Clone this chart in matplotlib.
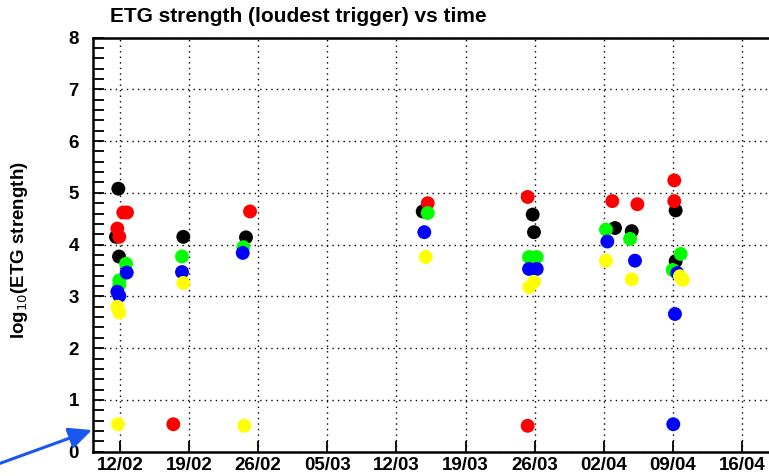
import numpy as np
import matplotlib.pyplot as plt
from matplotlib.patches import FancyArrowPatch

# days since 12/02, log10 of loudest ETG trigger strength
black_t = [-0.17, -0.41, -0.10, 6.41, 12.76, 30.66, 41.80, 41.93, 50.14, 51.83, 56.28, 56.28]
black_v = [5.08, 4.15, 3.77, 4.15, 4.14, 4.64, 4.58, 4.24, 4.32, 4.26, 4.66, 3.68]
red_t = [0.33, 0.71, -0.27, -0.07, 5.40, 13.17, 31.17, 41.29, 41.29, 49.86, 52.40, 56.14, 56.14]
red_v = [4.62, 4.62, 4.31, 4.15, 0.53, 4.64, 4.80, 4.92, 0.50, 4.84, 4.78, 5.24, 4.84]
green_t = [0.61, -0.07, -0.07, 6.28, 12.49, 31.17, 41.43, 42.21, 49.22, 51.66, 56.79, 55.98]
green_v = [3.63, 3.31, 3.22, 3.77, 3.95, 4.61, 3.76, 3.76, 4.29, 4.11, 3.82, 3.51]
blue_t = [0.68, -0.27, -0.07, 6.28, 12.43, 30.82, 41.43, 42.21, 49.36, 52.16, 56.45, 56.21, 56.04]
blue_v = [3.46, 3.09, 3.01, 3.47, 3.84, 4.24, 3.53, 3.53, 4.06, 3.69, 3.45, 2.66, 0.53]
yellow_t = [-0.27, -0.07, -0.20, 6.41, 12.59, 30.96, 41.93, 41.46, 49.22, 51.83, 56.72, 57.00]
yellow_v = [2.80, 2.69, 0.53, 3.26, 0.50, 3.76, 3.28, 3.18, 3.69, 3.33, 3.39, 3.32]

week_labels = ['12/02', '19/02', '26/02', '05/03', '12/03', '19/03', '26/03', '02/04', '09/04', '16/04']

plt.rcParams['font.family'] = ['Liberation Sans', 'DejaVu Sans']

W, H = 769, 476
fig = plt.figure(figsize=(W/100, H/100), dpi=100)
x0, x1 = 93, 800
y0, y1 = 451.7, 37.5
ax = fig.add_axes([x0/W, (H-y0)/H, (x1-x0)/W, (y0-y1)/H])

series = [(black_t, black_v, 'black'), (red_t, red_v, '#ff0000'),
          (green_t, green_v, '#00ff00'), (blue_t, blue_v, '#0000ff'),
          (yellow_t, yellow_v, '#ffff00')]
for t, v, c in series:
    ax.scatter(t, v, s=100, color=c, edgecolors='none', zorder=3)

px_per_day = 9.873
ax.set_xlim((x0-120)/px_per_day, (x1-120)/px_per_day)
ax.set_ylim(0, 8)

ax.set_xticks(np.arange(len(week_labels))*7)
ax.set_xticklabels(week_labels, fontweight='bold', fontsize=13.5)
ax.set_yticks(range(9))
ax.set_yticklabels([str(i) for i in range(9)], fontweight='bold', fontsize=13.5)
ax.set_yticks(np.arange(0, 8.01, 0.2), minor=True)

ax.tick_params(axis='both', which='both', direction='in', color='black', width=1.3)
ax.tick_params(axis='y', which='major', length=8, pad=10)
ax.tick_params(axis='y', which='minor', length=8)
ax.tick_params(axis='x', which='major', length=8, pad=4)
ax.tick_params(top=False, right=False)

ax.grid(True, which='major', color='black', linestyle=(0, (1, 3)), linewidth=1.0)
ax.set_axisbelow(True)
for s in ax.spines.values():
    s.set_linewidth(1.8)

fig.text(110/W, 1-17/H, 'ETG strength (loudest trigger) vs time', fontsize=15,
         fontweight='bold', ha='left', va='center')
fig.text(20/W, 1-250/H, r'log$_{10}$(ETG strength)', fontsize=13.5, fontweight='bold',
         rotation=90, ha='center', va='center')

# pointer to the low-value trigger band
arrow = FancyArrowPatch((-10/W, 1-467/H), (92/W, 1-430/H), transform=fig.transFigure,
                        arrowstyle='-|>,head_length=14,head_width=6.5', color='#1a56f0',
                        linewidth=2.2, mutation_scale=1, shrinkA=0, shrinkB=0)
fig.patches.append(arrow)

fig.savefig('out.png', dpi=100)
